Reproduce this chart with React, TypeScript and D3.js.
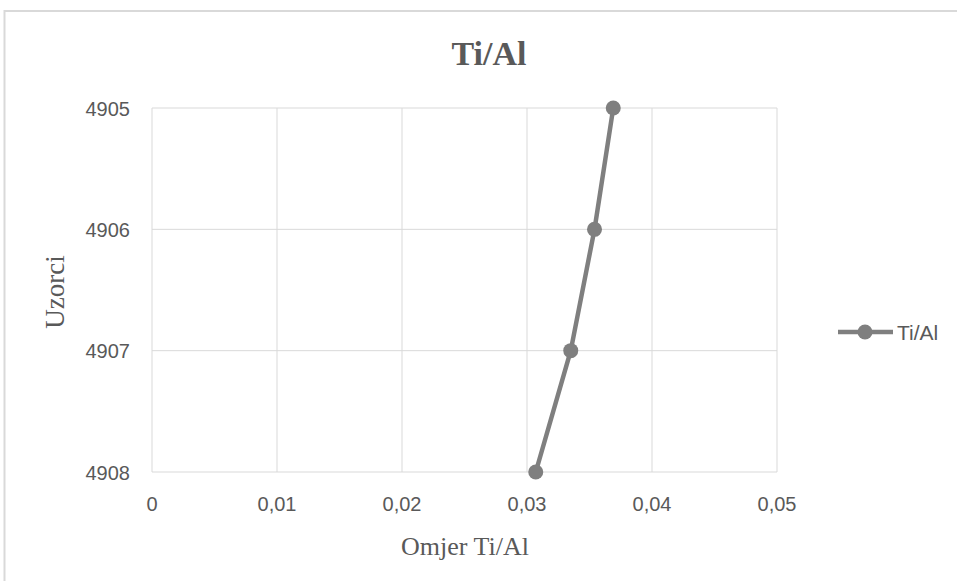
import React from "react";
import * as d3 from "d3";

const samples = [4905, 4906, 4907, 4908];
const ratios = [0.0369, 0.0354, 0.0335, 0.0307];
const xTicks = [0, 0.01, 0.02, 0.03, 0.04, 0.05];
const seriesName = "Ti/Al";
const chartTitle = "Ti/Al";
const xTitle = "Omjer Ti/Al";
const yTitle = "Uzorci";

export default function App() {
  const W = 957, H = 581;
  const left = 152, right = 777, top = 108, bottom = 472;
  const x = d3.scaleLinear().domain([0, 0.05]).range([left, right]);
  const y = d3.scaleLinear().domain([4905, 4908]).range([top, bottom]);
  const line = d3.line<number>().x((_, i) => x(ratios[i])).y((d) => y(d));
  const fmt = (v: number) => (v === 0 ? "0" : d3.format(".2f")(v).replace(".", ","));
  const grey = "#7f7f7f";
  const grid = "#d9d9d9";
  const sans = "'Liberation Sans', Arial, sans-serif";
  const serif = "'Liberation Serif', 'Times New Roman', serif";
  return (
    <svg width={W} height={H} style={{ position: "absolute", left: 0, top: 0, background: "#fff" }}>
      <rect x={4.5} y={11} width={W + 10} height={H + 10} fill="#fff" stroke="#d9d9d9" strokeWidth={2} />
      <text x={489} y={65} textAnchor="middle" fontFamily={serif} fontWeight="bold" fontSize={34} fill="#595959">
        {chartTitle}
      </text>
      {xTicks.map((t) => (
        <line key={"gx" + t} x1={x(t)} x2={x(t)} y1={top} y2={bottom} stroke={grid} strokeWidth={1} />
      ))}
      {samples.map((s) => (
        <line key={"gy" + s} x1={left} x2={right} y1={y(s)} y2={y(s)} stroke={grid} strokeWidth={1} />
      ))}
      {samples.map((s) => (
        <text key={"ly" + s} x={130} y={y(s) + 7.5} textAnchor="end" fontFamily={sans} fontSize={20} fill="#595959">
          {s}
        </text>
      ))}
      {xTicks.map((t) => (
        <text key={"lx" + t} x={x(t)} y={511} textAnchor="middle" fontFamily={sans} fontSize={20} fill="#595959">
          {fmt(t)}
        </text>
      ))}
      <text x={465} y={555} textAnchor="middle" fontFamily={serif} fontSize={26} fill="#595959">
        {xTitle}
      </text>
      <text transform={`translate(64,292) rotate(-90)`} textAnchor="middle" fontFamily={serif} fontSize={27} fill="#595959">
        {yTitle}
      </text>
      <path d={line(samples) || ""} fill="none" stroke={grey} strokeWidth={4.5} strokeLinejoin="round" />
      {samples.map((s, i) => (
        <circle key={"p" + s} cx={x(ratios[i])} cy={y(s)} r={7.5} fill={grey} />
      ))}
      <line x1={838} x2={893} y1={332} y2={332} stroke={grey} strokeWidth={4.5} />
      <circle cx={865} cy={332} r={7.5} fill={grey} />
      <text x={897} y={340} fontFamily={sans} fontSize={21} fill="#595959">
        {seriesName}
      </text>
    </svg>
  );
}
